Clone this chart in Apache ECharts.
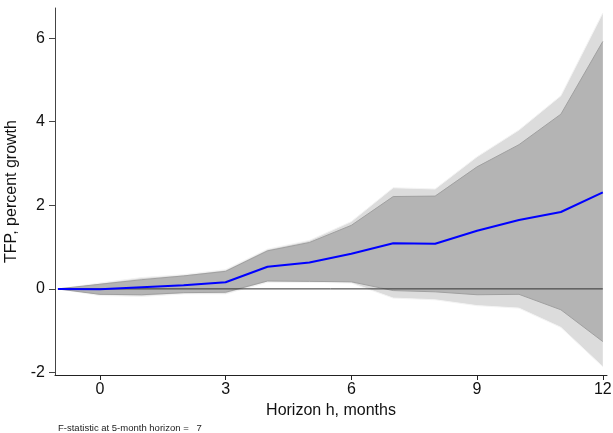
<!DOCTYPE html>
<html>
<head>
<meta charset="utf-8">
<script src="https://cdn.jsdelivr.net/npm/echarts@6/dist/echarts.min.js"></script>
<style>html,body{margin:0;padding:0;background:#fff;}#c{width:613px;height:433px;}</style>
</head>
<body>
<div id="c"></div>
<script>
var horizons   = [-1, 0, 1, 2, 3, 4, 5, 6, 7, 8, 9, 10, 11, 12];
var estimate   = [0, -0.01, 0.04, 0.09, 0.16, 0.53, 0.63, 0.84, 1.09, 1.08, 1.39, 1.65, 1.84, 2.31];
var upperInner = [0, 0.11, 0.22, 0.31, 0.42, 0.91, 1.11, 1.52, 2.21, 2.22, 2.92, 3.45, 4.18, 5.92];
var lowerInner = [0, -0.13, -0.14, -0.09, -0.08, 0.19, 0.18, 0.17, -0.04, -0.07, -0.14, -0.13, -0.50, -1.26];
var upperOuter = [0, 0.14, 0.27, 0.34, 0.46, 0.95, 1.16, 1.61, 2.42, 2.39, 3.16, 3.80, 4.62, 6.60];
var lowerOuter = [0, -0.16, -0.18, -0.12, -0.12, 0.16, 0.16, 0.14, -0.22, -0.26, -0.40, -0.46, -0.92, -1.86];
var xTicks = [0, 3, 6, 9, 12];
var yTicks = [-2, 0, 2, 4, 6];
var footnote = 'F-statistic at 5-month horizon =   7';

function pairs(vals) { return horizons.map(function (h, i) { return [h, vals[i]]; }); }
function bandData(lo, hi) { return horizons.map(function (h, i) { return [h, lo[i], hi[i]]; }); }

var bands = [bandData(lowerOuter, upperOuter), bandData(lowerInner, upperInner)];

function bandRenderer(band, fill, edge, edgeWidth) {
  return function (params, api) {
    if (params.dataIndex !== 0) return null;
    var upper = [], lower = [];
    for (var i = 0; i < band.length; i++) {
      upper.push(api.coord([band[i][0], band[i][2]]));
      lower.push(api.coord([band[i][0], band[i][1]]));
    }
    var poly = upper.concat(lower.slice().reverse());
    return {
      type: 'group',
      children: [
        {type: 'polygon', shape: {points: poly}, style: {fill: fill, stroke: null}},
        {type: 'polyline', shape: {points: upper}, style: {fill: null, stroke: edge, lineWidth: edgeWidth}},
        {type: 'polyline', shape: {points: lower}, style: {fill: null, stroke: edge, lineWidth: edgeWidth}}
      ]
    };
  };
}

var font = 'Liberation Sans, Arial, sans-serif';
var chart = echarts.init(document.getElementById('c'), null, {renderer: 'canvas'});
chart.setOption({
  animation: false,
  backgroundColor: '#ffffff',
  grid: {left: 55, right: 6, top: 8, bottom: 58, containLabel: false, outerBoundsMode: 'none'},
  xAxis: {
    type: 'value', min: -1.07, max: 12.1,
    name: 'Horizon h, months', nameLocation: 'middle', nameGap: 23,
    nameTextStyle: {fontFamily: font, fontSize: 16, color: '#111'},
    axisLine: {show: true, onZero: false, lineStyle: {color: '#222', width: 1}},
    axisTick: {show: true, length: 5, lineStyle: {color: '#222'}, customValues: xTicks},
    axisLabel: {fontFamily: font, fontSize: 16, color: '#111', margin: 7, customValues: xTicks},
    splitLine: {show: false}
  },
  yAxis: {
    type: 'value', min: -2.06, max: 6.72,
    name: 'TFP, percent growth', nameLocation: 'middle', nameGap: 31,
    nameTextStyle: {fontFamily: font, fontSize: 16, color: '#111'},
    axisLine: {show: true, onZero: false, lineStyle: {color: '#444', width: 1}},
    axisTick: {show: true, length: 6, lineStyle: {color: '#444'}, customValues: yTicks},
    axisLabel: {fontFamily: font, fontSize: 16, color: '#111', margin: 10, customValues: yTicks},
    splitLine: {show: false}
  },
  series: [
    {type: 'custom', data: bands[0], encode: {x: 0, y: [1, 2]}, clip: true, z: 1,
     renderItem: bandRenderer(bands[0], '#dcdcdc', '#f4f4f4', 1)},
    {type: 'custom', data: bands[1], encode: {x: 0, y: [1, 2]}, clip: true, z: 2,
     renderItem: bandRenderer(bands[1], '#b4b4b4', '#a0a0a0', 1)},
    {type: 'line', data: [[horizons[0], 0], [horizons[horizons.length - 1], 0]], symbol: 'none',
     lineStyle: {color: '#333333', width: 1}, z: 4},
    {type: 'line', data: pairs(estimate), symbol: 'none',
     lineStyle: {color: '#0000ff', width: 2}, z: 5}
  ],
  graphic: [
    {type: 'text', left: 58, top: 423, style: {text: footnote, fontFamily: font, fontSize: 9.5, fill: '#222'}}
  ]
});
</script>
</body>
</html>
